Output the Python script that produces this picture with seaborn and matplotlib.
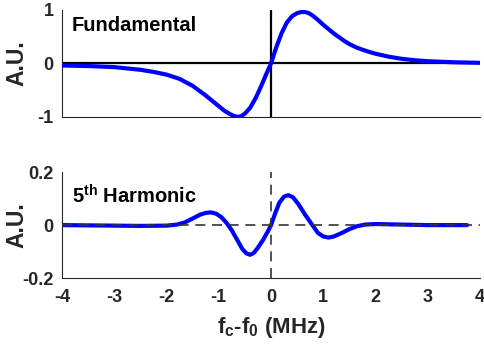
import numpy as np
import pandas as pd
import matplotlib
matplotlib.use("Agg")
import matplotlib.pyplot as plt
import seaborn as sns

# Fundamental
fund_f = [-4.0, -3.5, -3.0, -2.5, -2.25, -2.0, -1.75, -1.5, -1.25, -1.1, -1.0, -0.9,
          -0.8, -0.72, -0.65, -0.58, -0.5, -0.4, -0.3, -0.2, -0.1, 0.0, 0.1, 0.2,
          0.3, 0.4, 0.5, 0.58, 0.65, 0.72, 0.8, 0.9, 1.0, 1.1, 1.2, 1.3, 1.4, 1.5, 1.625, 1.75,
          1.875, 2.0, 2.25, 2.5, 2.75, 3.0, 3.5, 4.0]
fund_v = [-0.04, -0.05, -0.07, -0.12, -0.16, -0.21, -0.29, -0.42, -0.60, -0.72, -0.80, -0.88,
          -0.94, -0.98, -1.0, -0.99, -0.94, -0.83, -0.66, -0.45, -0.22, 0.0, 0.30, 0.56,
          0.76, 0.88, 0.94, 0.96, 0.96, 0.94, 0.89, 0.81, 0.72, 0.64, 0.56, 0.49, 0.42, 0.36, 0.30, 0.255,
          0.215, 0.18, 0.125, 0.085, 0.058, 0.04, 0.02, 0.01]

# 5th harmonic
harm_f = [-4.0, -3.5, -3.0, -2.5, -2.0, -1.8, -1.65, -1.5, -1.35, -1.25, -1.15, -1.05,
          -0.95, -0.85, -0.75, -0.65, -0.55, -0.47, -0.4, -0.33, -0.25, -0.15, -0.05,
          0.0, 0.08, 0.16, 0.25, 0.33, 0.42, 0.52, 0.65, 0.78, 0.9, 1.0, 1.1, 1.2,
          1.35, 1.5, 1.65, 1.8, 2.0, 2.5, 3.0, 3.75]
harm_v = [0.0, -0.001, -0.002, -0.003, -0.002, 0.002, 0.01, 0.025, 0.04, 0.046, 0.048, 0.043,
          0.03, 0.008, -0.02, -0.055, -0.09, -0.107, -0.112, -0.105, -0.085, -0.055, -0.02,
          0.0, 0.045, 0.085, 0.108, 0.113, 0.105, 0.08, 0.04, 0.003, -0.03, -0.043, -0.047, -0.043,
          -0.03, -0.015, -0.004, 0.002, 0.004, 0.002, 0.0, 0.0]

x_ticks = [-4, -3, -2, -1, 0, 1, 2, 3, 4]
top_yticks = [-1, 0, 1]
bot_yticks = [-0.2, 0, 0.2]
bot_yticklabels = ["-0.2", "0", "0.2"]

sns.set_style("white")
plt.rcParams["font.family"] = ["Liberation Sans", "DejaVu Sans"]
plt.rcParams["font.weight"] = "bold"
plt.rcParams["axes.unicode_minus"] = False
plt.rcParams["mathtext.fontset"] = "custom"
plt.rcParams["mathtext.rm"] = "Liberation Sans:bold"
plt.rcParams["mathtext.bf"] = "Liberation Sans:bold"
plt.rcParams["mathtext.it"] = "Liberation Sans:bold"

fig = plt.figure(figsize=(4.84, 3.52), dpi=100)
ax1 = fig.add_axes([0.128, 0.668, 0.864, 0.304])
ax2 = fig.add_axes([0.128, 0.210, 0.864, 0.301])

axc = "#262626"
df1 = pd.DataFrame({"f": fund_f, "v": fund_v})
df2 = pd.DataFrame({"f": harm_f, "v": harm_v})

ax1.axhline(0, color="black", lw=1.6, zorder=1)
ax1.axvline(0, color="black", lw=1.6, zorder=1)
sns.lineplot(data=df1, x="f", y="v", ax=ax1, color="#0000ff", lw=3.0, sort=False,
             estimator=None, zorder=3)

sns.lineplot(data=df2, x="f", y="v", ax=ax2, color="#0000ff", lw=3.0, sort=False,
             estimator=None, zorder=2)
ax2.axhline(0, color="#333333", lw=1.2, ls=(0, (6, 4)), zorder=4)
ax2.axvline(0, color="#333333", lw=1.2, ls=(0, (6, 4)), zorder=4)

for ax in (ax1, ax2):
    ax.set_xlim(-4, 4)
    ax.set_xticks(x_ticks)
    for s in ("top", "right"):
        ax.spines[s].set_visible(False)
    for s in ("left", "bottom"):
        ax.spines[s].set_color(axc)
        ax.spines[s].set_linewidth(0.8)
    ax.tick_params(direction="in", length=4, width=0.8, color=axc, labelcolor=axc,
                   labelsize=13)
    ax.tick_params(axis="x", pad=8)
    ax.tick_params(axis="y", pad=6)
    ax.set_ylabel("A.U.", fontsize=16.5, fontweight="bold", color=axc)
    ax.set_xlabel("")
    for lab in ax.get_xticklabels() + ax.get_yticklabels():
        lab.set_fontweight("bold")

ax1.set_ylim(-1, 1)
ax1.set_yticks(top_yticks)
ax1.set_yticklabels(["-1", "0", "1"], fontweight="bold")
ax1.set_xticklabels([])
ax1.text(0.022, 0.80, "Fundamental", transform=ax1.transAxes, fontsize=14.5,
         fontweight="bold", color="black", va="baseline")

ax2.set_ylim(-0.2, 0.2)
ax2.set_yticks(bot_yticks)
ax2.set_yticklabels(bot_yticklabels, fontweight="bold")
ax2.set_xticklabels([str(t) for t in x_ticks], fontweight="bold")
ax2.text(0.025, 0.70, r"5$^{\mathrm{th}}$ Harmonic", transform=ax2.transAxes,
         fontsize=14.5, fontweight="bold", color="black", va="baseline")
ax2.set_xlabel(r"f$_{\mathrm{c}}$-f$_{\mathrm{0}}$ (MHz)", fontsize=16,
               fontweight="bold", color=axc, labelpad=6)

ax1.yaxis.set_label_coords(-0.08, 0.5)
ax2.yaxis.set_label_coords(-0.08, 0.5)

fig.savefig("out.png", dpi=100)
